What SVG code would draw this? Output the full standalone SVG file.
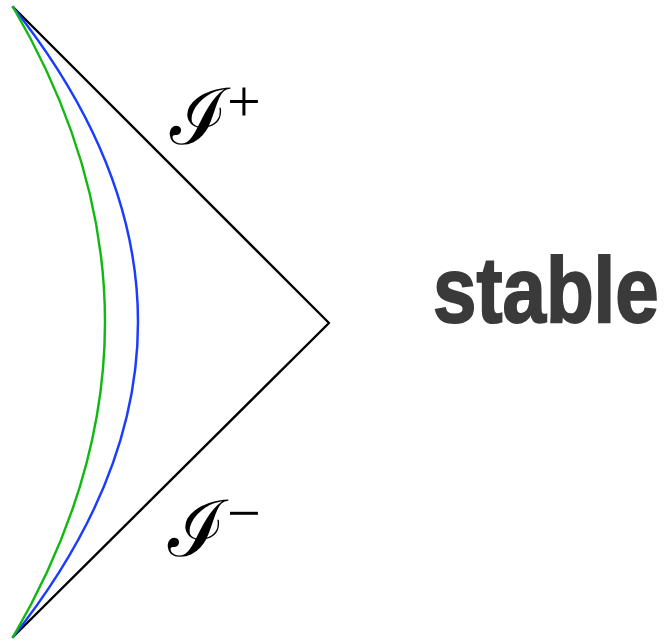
<svg xmlns="http://www.w3.org/2000/svg" width="670" height="642" viewBox="0 0 670 642">
<style>
.ln{fill:none;stroke-width:2.4;stroke-linejoin:round;stroke-linecap:round}
.cal{font-family:"DejaVu Serif","Noto Sans",serif;font-style:italic;font-size:78px;fill:#000}
.sup{font-family:"Liberation Serif","DejaVu Serif",serif;font-size:60px;fill:#000}
.lbl{font-family:"Liberation Sans","Arial",sans-serif;font-weight:bold;font-size:93px;fill:#3a3a3a;stroke:#3a3a3a;stroke-width:2}
</style>
<rect width="670" height="642" fill="#fff"/>
<g id="connectors">
<path class="ln" stroke="#000" d="M13,7 L329,323 L13,637"/>
<path class="ln" stroke="#1a3cff" d="M13,7 Q263,322 13,637"/>
<path class="ln" stroke="#10b810" d="M13,7 Q197,322 13,637"/>
</g>
<g id="scri_plus">
<text class="cal" x="170" y="144">ℐ</text>
<text class="sup" x="227" y="121">+</text>
</g>
<g id="scri_minus">
<text class="cal" x="168" y="556">ℐ</text>
<text class="sup" x="227" y="533">−</text>
</g>
<g id="stable">
<text class="lbl" transform="translate(433,322) scale(0.84,1)" x="0" y="0">stable</text>
</g>
</svg>
